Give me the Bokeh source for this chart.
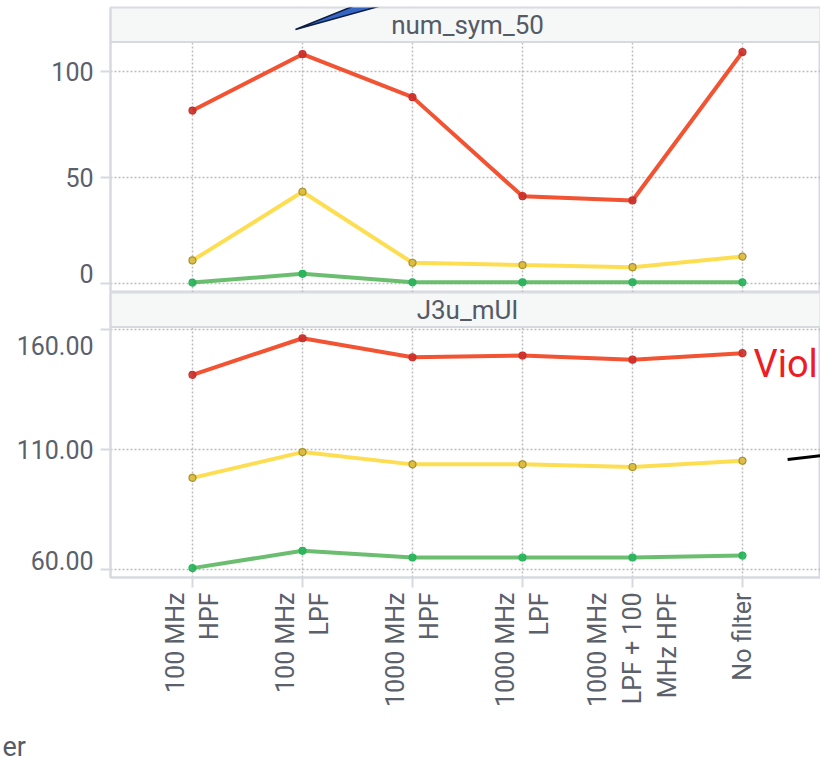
import numpy as np
from bokeh.plotting import figure
from bokeh.layouts import column
from bokeh.models import FixedTicker, Range1d, LinearAxis, PolyAnnotation
from bokeh.core.properties import value
from bokeh.embed import file_html
from bokeh.resources import INLINE

# ---------------- data ----------------
categories = ["100 MHz HPF", "100 MHz LPF", "1000 MHz HPF", "1000 MHz LPF",
              "1000 MHz LPF + 100 MHz HPF", "No filter"]
category_labels = ["100 MHz\nHPF", "100 MHz\nLPF", "1000 MHz\nHPF", "1000 MHz\nLPF",
                   "1000 MHz\nLPF + 100\nMHz HPF", "No filter"]

num_sym_red = [81.5, 108.0, 87.8, 41.2, 39.2, 109.0]
num_sym_yellow = [11.0, 43.3, 9.9, 8.8, 7.8, 12.8]
num_sym_green = [0.6, 4.7, 0.7, 0.7, 0.7, 0.7]

j3u_red = [141.0, 156.2, 148.3, 149.0, 147.3, 150.0]
j3u_yellow = [98.2, 108.9, 103.8, 103.8, 102.7, 105.3]
j3u_green = [60.7, 67.9, 65.1, 65.1, 65.1, 65.9]

num_sym_ticks = [0, 50, 100]
j3u_ticks = [60, 110, 160]

panel_titles = ["num_sym_50", "J3u_mUI"]
note_text = "Viol"
corner_text = "er"

# ---------------- styles ----------------
FONT = "Roboto"
TXT = "#5b616b"
BORDER = "#d6d9df"
GRID = "#bcbcbc"
RED, RED_M = "#f04a28", "#c9302a"
YEL, YEL_M, YEL_ML = "#fddc4a", "#d9b93e", "#a98f2c"
GRN, GRN_M = "#63bb68", "#27b35a"

xs = list(range(len(categories)))
X0, X1 = -0.7455, 5.709


def make_panel(title, red, yel, grn, ticks, decimals, y0, y1, strip_bottom, height,
               mb_top, mb_bottom, show_x, label_shift_px):
    p = figure(width=820, height=height, output_backend="svg", toolbar_location=None,
               x_range=Range1d(X0, X1), y_range=Range1d(y0, y1),
               x_axis_location="below" if show_x else None,
               min_border_left=110, min_border_right=0, min_border_top=mb_top,
               min_border_bottom=mb_bottom)
    p.background_fill_color = "white"
    p.border_fill_color = "white"
    p.outline_line_color = BORDER
    p.outline_line_width = 2

    p.xgrid.ticker = FixedTicker(ticks=xs)
    p.ygrid.ticker = FixedTicker(ticks=ticks)
    for g in (p.xgrid, p.ygrid):
        g.grid_line_color = GRID
        g.grid_line_dash = "2 2"
        g.grid_line_width = 1.5

    # axis carrying the tick marks
    ya = p.yaxis[0]
    ya.ticker = FixedTicker(ticks=ticks)
    ya.axis_line_color = BORDER
    ya.axis_line_width = 2
    ya.major_tick_out = 10
    ya.major_tick_in = 0
    ya.major_tick_line_color = BORDER
    ya.major_tick_line_width = 2
    ya.minor_tick_line_color = None
    ya.major_label_overrides = {t: "" for t in ticks}
    ya.major_label_standoff = 0
    ya.major_label_text_font_size = "1px"

    # axis carrying the tick labels; end labels are kept flush inside the panel
    px_per_unit = (height - mb_top - mb_bottom) / (y1 - y0)
    lab_pos = [t + label_shift_px.get(t, 0) / px_per_unit for t in ticks]
    la = LinearAxis(ticker=FixedTicker(ticks=lab_pos),
                    major_label_overrides={lp: f"{t:.{decimals}f}" for lp, t in zip(lab_pos, ticks)},
                    axis_line_color=None, major_tick_line_color=None,
                    minor_tick_line_color=None, major_tick_out=0, major_tick_in=0,
                    major_label_standoff=7, major_label_text_font=FONT,
                    major_label_text_font_size="25px", major_label_text_color=TXT)
    p.add_layout(la, "left")

    if show_x:
        xa = p.xaxis[0]
        xa.ticker = FixedTicker(ticks=xs)
        xa.major_label_overrides = {i: lab for i, lab in zip(xs, category_labels)}
        xa.major_label_orientation = np.pi / 2
        xa.axis_line_color = BORDER
        xa.axis_line_width = 2
        xa.major_tick_out = 10
        xa.major_tick_in = 0
        xa.major_tick_line_color = BORDER
        xa.major_tick_line_width = 2
        xa.minor_tick_line_color = None
        xa.major_label_text_font = FONT
        xa.major_label_text_font_size = "25px"
        xa.major_label_text_color = TXT
        xa.major_label_standoff = 5

    for ys, lc, mf, ml in ((grn, GRN, GRN_M, GRN_M), (yel, YEL, YEL_M, YEL_ML), (red, RED, RED_M, RED_M)):
        p.line(xs, ys, line_color=lc, line_width=4, line_alpha=0.95)
        p.scatter(xs, ys, size=7, fill_color=mf, line_color=ml, line_width=1.2, fill_alpha=0.9)

    # facet strip
    p.quad(left=[X0], right=[X1], bottom=[strip_bottom], top=[y1],
           fill_color="#f6f7f7", line_color=BORDER, line_width=2)
    p.text(x=[float(np.mean(xs))], y=[(strip_bottom + y1) / 2], text=[title],
           text_align="center", text_baseline="middle",
           text_font=value(FONT), text_font_size="26px", text_color="#555b66")
    return p


p1 = make_panel(panel_titles[0], num_sym_red, num_sym_yellow, num_sym_green, num_sym_ticks, 0,
                -4.09, 129.96, 113.7, 292, 7, 0, False, {0: 10.0})
p2 = make_panel(panel_titles[1], j3u_red, j3u_yellow, j3u_green, j3u_ticks, 2,
                56.8, 175.2, 160.9, 428, 0, 143, True, {160: -16.4, 60: 9.3})

# annotations that the crop cuts off
p1.add_layout(PolyAnnotation(xs=[0.936, 1.591, 1.891], ys=[119.6, 133.3, 133.3],
                             fill_color="#3567c2", fill_alpha=1.0,
                             line_color="#0b1c45", line_width=1.5, line_alpha=1.0))
p2.text(x=[5.1], y=[145.3], text=[note_text], text_align="left", text_baseline="alphabetic",
        text_font=value(FONT), text_font_size="38px", text_color="#ee1c25")
p2.segment(x0=[5.41], y0=[105.85], x1=[5.8], y1=[107.9], line_color="black", line_width=3)

# strip along the bottom holding the cut-off caption
p3 = figure(width=820, height=40, output_backend="svg", toolbar_location=None,
            x_range=Range1d(0, 820), y_range=Range1d(0, 40),
            x_axis_location=None, y_axis_location=None,
            min_border_left=0, min_border_right=0, min_border_top=0, min_border_bottom=0)
p3.frame_align = False
p3.outline_line_color = None
p3.xgrid.visible = False
p3.ygrid.visible = False
p3.text(x=[2], y=[14], text=[corner_text], text_align="left", text_baseline="alphabetic",
        text_font=value(FONT), text_font_size="27px", text_color="#555b66")

layout = column(p1, p2, p3, spacing=0)
open("out.html", "w").write(file_html(layout, INLINE))
